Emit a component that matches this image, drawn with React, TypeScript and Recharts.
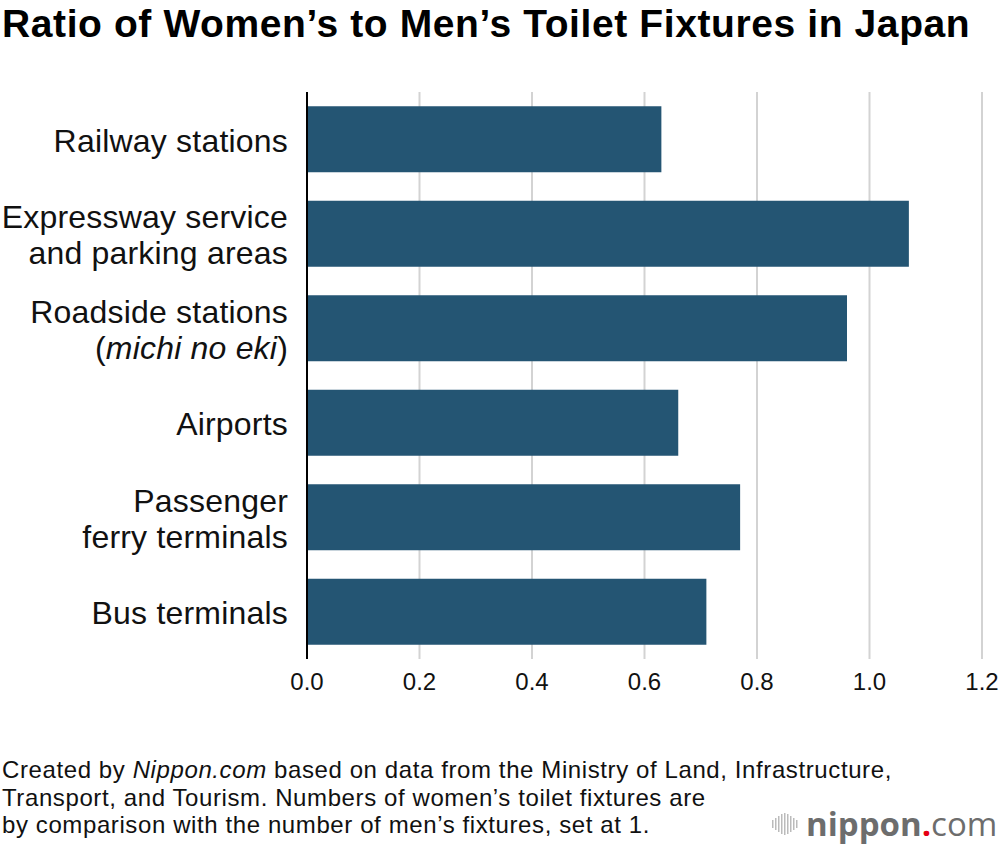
import React from 'react'
import { Bar, BarChart, CartesianGrid, XAxis, YAxis } from 'recharts'

// categories, top to bottom; "|" splits a label over two lines
const categories = [
  'Railway stations',
  'Expressway service|and parking areas',
  'Roadside stations|(michi no eki)',
  'Airports',
  'Passenger|ferry terminals',
  'Bus terminals',
]
const ratios = [0.63, 1.07, 0.96, 0.66, 0.77, 0.71]
const xTicks = [0, 0.2, 0.4, 0.6, 0.8, 1.0, 1.2]

const data = categories.map((name, i) => ({ name, ratio: ratios[i] }))

const FONT = '"Liberation Sans", Arial, Helvetica, sans-serif'
const BAR_COLOR = '#245573'

const CategoryTick = (props: any) => {
  const { x, y, payload } = props
  const lines: string[] = String(payload.value).split('|')
  const lineGap = 36
  const first = -((lines.length - 1) * lineGap) / 2
  return (
    <text
      x={x}
      y={y}
      textAnchor="end"
      fontFamily={FONT}
      fontSize={32}
      letterSpacing={0.2}
      fill="#111"
    >
      {lines.map((line, i) => {
        const dy = i === 0 ? first + 12.5 : lineGap
        if (line.startsWith('(')) {
          return (
            <tspan key={i} x={x} dy={dy}>
              (<tspan fontStyle="italic">{line.slice(1, -1)}</tspan>)
            </tspan>
          )
        }
        return (
          <tspan key={i} x={x} dy={dy}>
            {line}
          </tspan>
        )
      })}
    </text>
  )
}

const ValueTick = (props: any) => {
  const { x, y, payload } = props
  return (
    <text x={x} y={y} dy={29} textAnchor="middle" fontFamily={FONT} fontSize={24} fill="#111">
      {Number(payload.value).toFixed(1)}
    </text>
  )
}

const Logo = () => {
  const bars = [8, 12, 16, 20, 22, 20, 16, 12, 8]
  return (
    <div style={{ position: 'absolute', left: 770, top: 808, display: 'flex', alignItems: 'center' }}>
      <svg width={32} height={30}>
        {bars.map((h, i) => (
          <rect key={i} x={2 + i * 3} y={15 - h / 2} width={1.5} height={h} fill="#bbb" />
        ))}
      </svg>
      <span
        style={{
          fontFamily: '"Open Sans", sans-serif',
          fontSize: 33,
          lineHeight: '31px',
          color: '#6d6d6d',
          marginLeft: 4,
          whiteSpace: 'nowrap',
        }}
      >
        <span style={{ fontWeight: 700 }}>nippon</span>
        <span style={{ color: '#e60012', fontWeight: 700 }}>.</span>
        <span style={{ fontWeight: 400 }}>com</span>
      </span>
    </div>
  )
}

export default function App() {
  return (
    <div
      style={{
        position: 'absolute',
        left: 0,
        top: 0,
        width: 1000,
        height: 846,
        background: '#fff',
        overflow: 'hidden',
        fontFamily: FONT,
      }}
    >
      <div
        style={{
          position: 'absolute',
          left: 2,
          top: 2,
          fontSize: 39,
          fontWeight: 700,
          letterSpacing: 0.6,
          color: '#000',
          whiteSpace: 'nowrap',
        }}
      >
        Ratio of Women’s to Men’s Toilet Fixtures in Japan
      </div>

      <div style={{ position: 'absolute', left: 0, top: 0 }}>
        <BarChart
          width={1000}
          height={720}
          data={data}
          layout="vertical"
          margin={{ top: 92, right: 18, left: 0, bottom: 21 }}
          barCategoryGap="15%"
        >
          <CartesianGrid horizontal={false} stroke="#d3d3d3" strokeWidth={2} />
          <XAxis
            type="number"
            domain={[0, 1.2]}
            ticks={xTicks}
            axisLine={false}
            tickLine={false}
            tickSize={0}
            height={40}
            tick={<ValueTick />}
            interval={0}
          />
          <YAxis
            type="category"
            dataKey="name"
            width={307}
            axisLine={{ stroke: '#000', strokeWidth: 2 }}
            tickLine={false}
            tickSize={0}
            tickMargin={19}
            tick={<CategoryTick />}
            interval={0}
          />
          <Bar dataKey="ratio" fill={BAR_COLOR} isAnimationActive={false} />
        </BarChart>
      </div>

      <div
        style={{
          position: 'absolute',
          left: 2,
          top: 756,
          fontSize: 24,
          lineHeight: '27.5px',
          letterSpacing: 0.6,
          color: '#111',
          whiteSpace: 'nowrap',
        }}
      >
        Created by <i>Nippon.com</i> based on data from the Ministry of Land, Infrastructure,
        <br />
        Transport, and Tourism. Numbers of women’s toilet fixtures are
        <br />
        by comparison with the number of men’s fixtures, set at 1.
      </div>

      <Logo />
    </div>
  )
}
